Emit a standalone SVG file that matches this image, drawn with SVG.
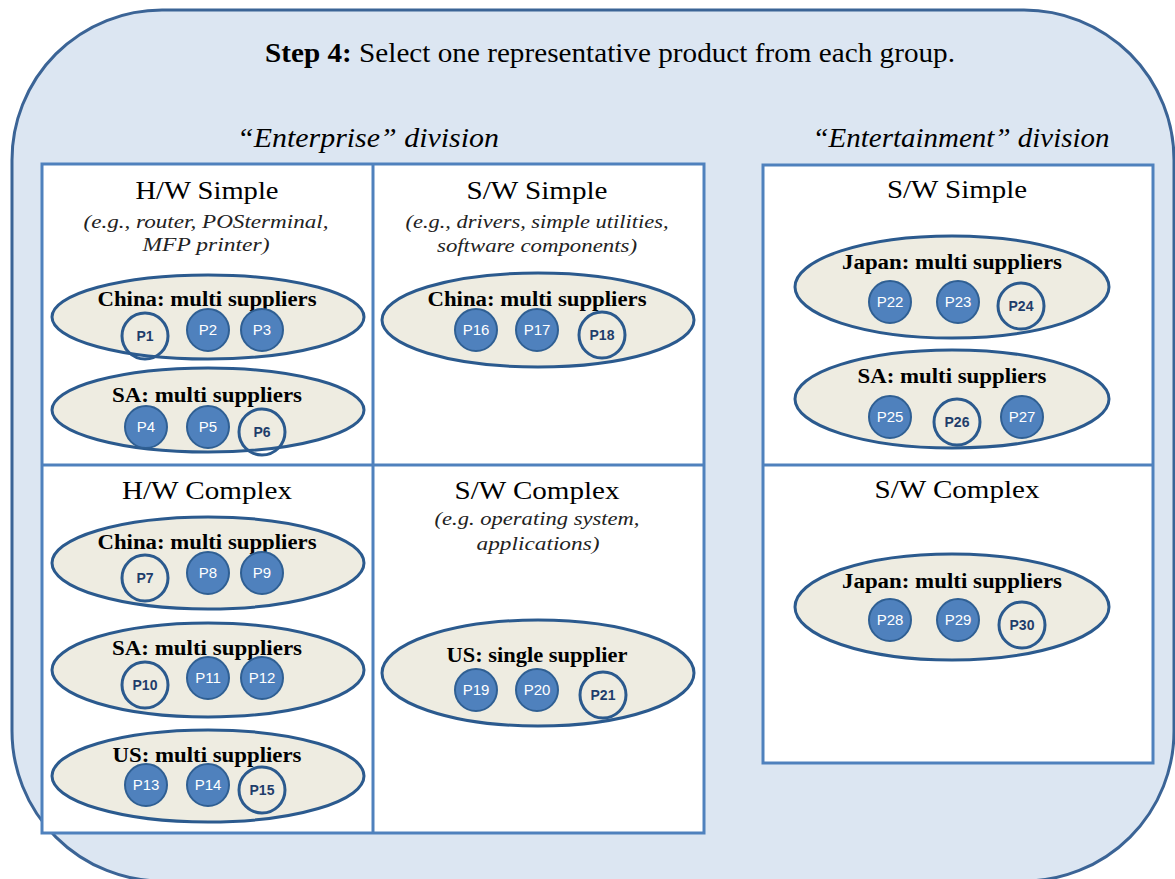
<svg xmlns="http://www.w3.org/2000/svg" width="1175" height="879" viewBox="0 0 1175 879">
<style>
.bg{fill:#dce6f2;stroke:#3b6496;stroke-width:3}
.cell{fill:#ffffff;stroke:#4f81bd;stroke-width:3}
.grp{fill:#eeece1;stroke:#2b5a8e;stroke-width:3}
.pf{fill:#4f81bd;stroke:#2f5f93;stroke-width:2}
.po{fill:none;stroke:#2b5a8e;stroke-width:3}
.tf{font-family:"Liberation Sans",Arial,sans-serif;font-size:15px;fill:#ffffff;text-anchor:middle}
.to{font-family:"Liberation Sans",Arial,sans-serif;font-size:14px;font-weight:bold;fill:#1f3d6b;text-anchor:middle}
.title{font-family:"Liberation Serif","Times New Roman",serif;font-size:27px;fill:#000;text-anchor:middle}
.div{font-family:"Liberation Serif","Times New Roman",serif;font-size:27px;font-style:italic;fill:#000;text-anchor:middle}
.head{font-family:"Liberation Serif","Times New Roman",serif;font-size:25px;fill:#000;text-anchor:middle}
.sub{font-family:"Liberation Serif","Times New Roman",serif;font-size:19px;font-style:italic;fill:#222;text-anchor:middle}
.lab{font-family:"Liberation Serif","Times New Roman",serif;font-size:20px;font-weight:bold;fill:#000;text-anchor:middle}
</style>
<rect class="bg" x="12" y="10" width="1162" height="871" rx="150" ry="150"/>
<text class="title" x="610" y="62" textLength="690" lengthAdjust="spacingAndGlyphs"><tspan font-weight="bold">Step 4:</tspan> Select one representative product from each group.</text>
<text class="div" x="368" y="147" textLength="262" lengthAdjust="spacingAndGlyphs">“Enterprise” division</text>
<text class="div" x="961" y="147" textLength="297" lengthAdjust="spacingAndGlyphs">“Entertainment” division</text>

<g id="enterprise-frame">
<rect class="cell" x="42" y="164" width="662" height="669"/>
<line x1="373" y1="164" x2="373" y2="833" stroke="#4f81bd" stroke-width="3"/>
<line x1="42" y1="465" x2="704" y2="465" stroke="#4f81bd" stroke-width="3"/>
</g>
<g id="entertainment-frame">
<rect class="cell" x="763" y="165" width="390" height="598"/>
<line x1="763" y1="465" x2="1153" y2="465" stroke="#4f81bd" stroke-width="3"/>
</g>

<g id="hw-simple">
<text class="head" x="207" y="199" textLength="143" lengthAdjust="spacingAndGlyphs">H/W Simple</text>
<text class="sub" x="206" y="228" textLength="245" lengthAdjust="spacingAndGlyphs">(e.g., router, POSterminal,</text>
<text class="sub" x="206" y="251" textLength="127" lengthAdjust="spacingAndGlyphs">MFP printer)</text>
</g>
<g id="hw-simple-china">
<ellipse class="grp" cx="208" cy="317" rx="156" ry="42"/>
<text class="lab" x="207" y="306" textLength="219" lengthAdjust="spacingAndGlyphs">China: multi suppliers</text>
<circle class="po" cx="145" cy="336" r="23"/><text class="to" x="145" y="341">P1</text>
<circle class="pf" cx="208" cy="330" r="21"/><text class="tf" x="208" y="335">P2</text>
<circle class="pf" cx="262" cy="330" r="21"/><text class="tf" x="262" y="335">P3</text>
</g>
<g id="hw-simple-sa">
<ellipse class="grp" cx="208" cy="410" rx="156" ry="42"/>
<text class="lab" x="207" y="402" textLength="190" lengthAdjust="spacingAndGlyphs">SA: multi suppliers</text>
<circle class="pf" cx="146" cy="427" r="21"/><text class="tf" x="146" y="432">P4</text>
<circle class="pf" cx="208" cy="427" r="21"/><text class="tf" x="208" y="432">P5</text>
<circle class="po" cx="262" cy="432" r="23"/><text class="to" x="262" y="437">P6</text>
</g>

<g id="sw-simple">
<text class="head" x="537" y="199" textLength="141" lengthAdjust="spacingAndGlyphs">S/W Simple</text>
<text class="sub" x="537" y="228" textLength="263" lengthAdjust="spacingAndGlyphs">(e.g., drivers, simple utilities,</text>
<text class="sub" x="537" y="252" textLength="200" lengthAdjust="spacingAndGlyphs">software components)</text>
</g>
<g id="sw-simple-china">
<ellipse class="grp" cx="538" cy="320" rx="156" ry="47"/>
<text class="lab" x="537" y="306" textLength="219" lengthAdjust="spacingAndGlyphs">China: multi suppliers</text>
<circle class="pf" cx="476" cy="330" r="21"/><text class="tf" x="476" y="335">P16</text>
<circle class="pf" cx="537" cy="330" r="21"/><text class="tf" x="537" y="335">P17</text>
<circle class="po" cx="602" cy="335" r="23"/><text class="to" x="602" y="340">P18</text>
</g>

<g id="hw-complex">
<text class="head" x="207" y="499" textLength="170" lengthAdjust="spacingAndGlyphs">H/W Complex</text>
</g>
<g id="hw-complex-china">
<ellipse class="grp" cx="208" cy="563" rx="156" ry="46"/>
<text class="lab" x="207" y="549" textLength="219" lengthAdjust="spacingAndGlyphs">China: multi suppliers</text>
<circle class="po" cx="145" cy="578" r="23"/><text class="to" x="145" y="583">P7</text>
<circle class="pf" cx="208" cy="573" r="21"/><text class="tf" x="208" y="578">P8</text>
<circle class="pf" cx="262" cy="573" r="21"/><text class="tf" x="262" y="578">P9</text>
</g>
<g id="hw-complex-sa">
<ellipse class="grp" cx="208" cy="670" rx="156" ry="47"/>
<text class="lab" x="207" y="655" textLength="190" lengthAdjust="spacingAndGlyphs">SA: multi suppliers</text>
<circle class="po" cx="145" cy="685" r="23"/><text class="to" x="145" y="690">P10</text>
<circle class="pf" cx="208" cy="678" r="21"/><text class="tf" x="208" y="683">P11</text>
<circle class="pf" cx="262" cy="678" r="21"/><text class="tf" x="262" y="683">P12</text>
</g>
<g id="hw-complex-us">
<ellipse class="grp" cx="208" cy="776" rx="156" ry="46"/>
<text class="lab" x="207" y="762" textLength="189" lengthAdjust="spacingAndGlyphs">US: multi suppliers</text>
<circle class="pf" cx="146" cy="785" r="21"/><text class="tf" x="146" y="790">P13</text>
<circle class="pf" cx="208" cy="785" r="21"/><text class="tf" x="208" y="790">P14</text>
<circle class="po" cx="262" cy="790" r="23"/><text class="to" x="262" y="795">P15</text>
</g>

<g id="sw-complex">
<text class="head" x="537" y="499" textLength="165" lengthAdjust="spacingAndGlyphs">S/W Complex</text>
<text class="sub" x="537" y="525" textLength="205" lengthAdjust="spacingAndGlyphs">(e.g. operating system,</text>
<text class="sub" x="538" y="550" textLength="123" lengthAdjust="spacingAndGlyphs">applications)</text>
</g>
<g id="sw-complex-us">
<ellipse class="grp" cx="538" cy="673" rx="156" ry="53"/>
<text class="lab" x="537" y="662" textLength="181" lengthAdjust="spacingAndGlyphs">US: single supplier</text>
<circle class="pf" cx="476" cy="690" r="21"/><text class="tf" x="476" y="695">P19</text>
<circle class="pf" cx="537" cy="690" r="21"/><text class="tf" x="537" y="695">P20</text>
<circle class="po" cx="603" cy="695" r="23"/><text class="to" x="603" y="700">P21</text>
</g>

<g id="ent-sw-simple">
<text class="head" x="957" y="198" textLength="140" lengthAdjust="spacingAndGlyphs">S/W Simple</text>
</g>
<g id="ent-sw-simple-japan">
<ellipse class="grp" cx="952" cy="287" rx="157" ry="51"/>
<text class="lab" x="952" y="269" textLength="220" lengthAdjust="spacingAndGlyphs">Japan: multi suppliers</text>
<circle class="pf" cx="890" cy="302" r="21"/><text class="tf" x="890" y="307">P22</text>
<circle class="pf" cx="958" cy="302" r="21"/><text class="tf" x="958" y="307">P23</text>
<circle class="po" cx="1021" cy="306" r="23"/><text class="to" x="1021" y="311">P24</text>
</g>
<g id="ent-sw-simple-sa">
<ellipse class="grp" cx="952" cy="399" rx="157" ry="49"/>
<text class="lab" x="952" y="383" textLength="189" lengthAdjust="spacingAndGlyphs">SA: multi suppliers</text>
<circle class="pf" cx="890" cy="417" r="21"/><text class="tf" x="890" y="422">P25</text>
<circle class="po" cx="957" cy="422" r="23"/><text class="to" x="957" y="427">P26</text>
<circle class="pf" cx="1022" cy="417" r="21"/><text class="tf" x="1022" y="422">P27</text>
</g>

<g id="ent-sw-complex">
<text class="head" x="957" y="498" textLength="165" lengthAdjust="spacingAndGlyphs">S/W Complex</text>
</g>
<g id="ent-sw-complex-japan">
<ellipse class="grp" cx="952" cy="607" rx="157" ry="53"/>
<text class="lab" x="952" y="588" textLength="220" lengthAdjust="spacingAndGlyphs">Japan: multi suppliers</text>
<circle class="pf" cx="890" cy="620" r="21"/><text class="tf" x="890" y="625">P28</text>
<circle class="pf" cx="958" cy="620" r="21"/><text class="tf" x="958" y="625">P29</text>
<circle class="po" cx="1022" cy="625" r="23"/><text class="to" x="1022" y="630">P30</text>
</g>

<g id="connectors"></g>
</svg>
